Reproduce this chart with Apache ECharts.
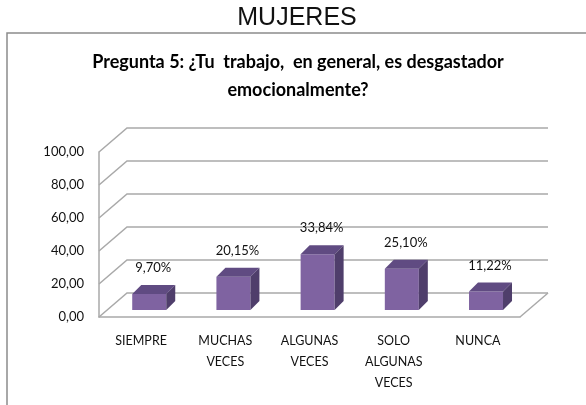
<!DOCTYPE html>
<html>
<head>
<meta charset="utf-8">
<script src="https://cdn.jsdelivr.net/npm/echarts@6/dist/echarts.min.js"></script>
<style>
  html, body { margin: 0; padding: 0; background: #fff; }
  #chart { width: 586px; height: 405px; }
</style>
</head>
<body>
<div id="chart"></div>
<script>
// datos
const categories = ['SIEMPRE', 'MUCHAS\nVECES', 'ALGUNAS\nVECES', 'SOLO\nALGUNAS\nVECES', 'NUNCA'];
const values = [9.70, 20.15, 33.84, 25.10, 11.22];
const yTicks = [0, 20, 40, 60, 80, 100];

const chart = echarts.init(document.getElementById('chart'));

// desplazamiento de la pared del fondo (efecto 3D)
const DX = 28, DY = -24;
const GRID_COLOR = '#a9a9a9';
const fmt = v => v.toFixed(2).replace('.', ',');

function renderWall(params, api) {
  const cs = params.coordSys;
  const y = api.coord([0, api.value(1)])[1];
  const x0 = cs.x, x1 = cs.x + cs.width;
  const lineStyle = { stroke: GRID_COLOR, lineWidth: 1.5, fill: null };
  const children = [
    { type: 'polyline', shape: { points: [[x0, y], [x0 + DX, y + DY], [x1 + DX, y + DY]] }, style: lineStyle }
  ];
  if (api.value(1) === 0) {
    children.push({ type: 'line', shape: { x1: x1, y1: y, x2: x1 + DX, y2: y + DY }, style: lineStyle });
  }
  return { type: 'group', children };
}

function renderBar(params, api) {
  const idx = api.value(0);
  const v = api.value(1);
  const base = api.coord([idx, 0]);
  const top = api.coord([idx, v]);
  const t = 0.29;
  const ox = DX * t, oy = DY * t;
  const w = 34, bx = 9, by = -9;
  const xl = base[0] + ox - w / 2, xr = xl + w;
  const yb = base[1] + oy, yt = top[1] + oy;
  return {
    type: 'group',
    children: [
      { type: 'rect', shape: { x: xl, y: yt, width: w, height: yb - yt }, style: { fill: '#7f63a1' } },
      { type: 'polygon', shape: { points: [[xl, yt], [xr, yt], [xr + bx, yt + by], [xl + bx, yt + by]] }, style: { fill: '#604b82' } },
      { type: 'polygon', shape: { points: [[xr, yt], [xr + bx, yt + by], [xr + bx, yb + by], [xr, yb]] }, style: { fill: '#4f3e6b' } },
      {
        type: 'text',
        x: base[0] + ox + 4, y: yt + by - 17,
        style: { text: fmt(v) + '%', font: '13px Lato', fill: '#111', align: 'center', verticalAlign: 'middle' }
      }
    ]
  };
}

const option = {
  animation: false,
  backgroundColor: '#fff',
  graphic: [
    { type: 'rect', shape: { x: 7, y: 33, width: 620, height: 420 }, style: { fill: null, stroke: '#8c8c8c', lineWidth: 1.5 }, silent: true },
    { type: 'text', x: 297, y: 18, style: { text: 'MUJERES', font: '25px "Liberation Sans"', fill: '#111', align: 'center', verticalAlign: 'middle' } },
    {
      type: 'text', x: 298, y: 48,
      style: {
        text: 'Pregunta 5: ¿Tu  trabajo,  en general, es desgastador\nemocionalmente?',
        font: 'bold 18px Lato', fill: '#000', align: 'center', verticalAlign: 'top', lineHeight: 28
      }
    }
  ],
  grid: { left: 99, top: 152, width: 421, height: 165 },
  xAxis: {
    type: 'category', data: categories,
    axisLine: { lineStyle: { color: GRID_COLOR, width: 1.5 } },
    axisTick: { show: false },
    axisLabel: { interval: 0, margin: 13, fontSize: 12.5, lineHeight: 21, fontFamily: 'Lato', color: '#111' }
  },
  yAxis: {
    type: 'value', min: 0, max: 100, interval: 20,
    axisLine: { show: true, lineStyle: { color: GRID_COLOR, width: 1.5 } },
    axisTick: { show: false }, splitLine: { show: false },
    axisLabel: { margin: 15, fontSize: 13, fontFamily: 'Lato', color: '#111', formatter: fmt }
  },
  series: [
    {
      type: 'custom', z: 1,
      data: yTicks.map(v => [0, v]),
      encode: { x: 0, y: 1 },
      renderItem: renderWall,
      silent: true
    },
    {
      type: 'custom', z: 5,
      data: values.map((v, i) => [i, v]),
      encode: { x: 0, y: 1 },
      renderItem: renderBar
    }
  ]
};

chart.setOption(option);
</script>
</body>
</html>
